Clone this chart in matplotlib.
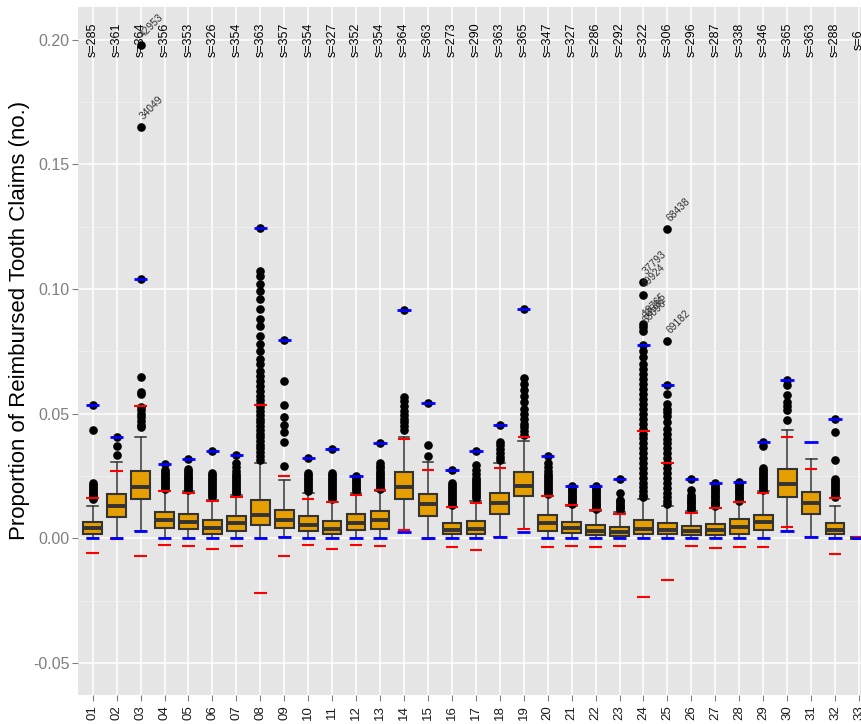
import matplotlib
matplotlib.use("Agg")
import matplotlib.pyplot as plt
import numpy as np
from matplotlib.ticker import MultipleLocator

plt.rcParams["font.family"] = ["Liberation Sans", "DejaVu Sans"]

categories = [f"{i:02d}" for i in range(1, 34)]
sizes = [285, 361, 364, 356, 353, 326, 354, 363, 357, 354, 327, 352, 354, 364, 363,
         273, 290, 363, 365, 347, 327, 286, 292, 322, 306, 296, 287, 338, 346, 365,
         363, 288, 6]

q1 = [0.0016, 0.0084, 0.0159, 0.0039, 0.0036, 0.0017, 0.0030, 0.0052, 0.0041, 0.0028,
      0.0015, 0.0032, 0.0036, 0.0158, 0.0091, 0.0016, 0.0018, 0.0099, 0.0169, 0.0030,
      0.0019, 0.0012, 0.0010, 0.0015, 0.0015, 0.0011, 0.0011, 0.0017, 0.0031, 0.0166,
      0.0096, 0.0015, 0.0]
medians = [0.0040, 0.0131, 0.0206, 0.0075, 0.0067, 0.0040, 0.0059, 0.0092, 0.0075, 0.0051,
           0.0036, 0.0063, 0.0072, 0.0204, 0.0137, 0.0032, 0.0036, 0.0142, 0.0209, 0.0062,
           0.0041, 0.0030, 0.0026, 0.0036, 0.0032, 0.0030, 0.0032, 0.0046, 0.0066, 0.0216,
           0.0142, 0.0032, 0.0]
q3 = [0.0066, 0.0177, 0.0270, 0.0104, 0.0096, 0.0075, 0.0091, 0.0155, 0.0115, 0.0088,
      0.0070, 0.0099, 0.0108, 0.0266, 0.0179, 0.0062, 0.0070, 0.0182, 0.0264, 0.0092,
      0.0066, 0.0052, 0.0046, 0.0075, 0.0062, 0.0049, 0.0055, 0.0076, 0.0094, 0.0276,
      0.0187, 0.0062, 0.0]
whisker_low = [0.0, 0.0, 0.0028, 0.0, 0.0, 0.0, 0.0, 0.0, 0.0003, 0.0,
               0.0, 0.0, 0.0, 0.0032, 0.0, 0.0, 0.0, 0.0004, 0.0035, 0.0,
               0.0, 0.0, 0.0, 0.0, 0.0, 0.0, 0.0, 0.0, 0.0, 0.0028,
               0.0004, 0.0, 0.0]
whisker_high = [0.0128, 0.0307, 0.0404, 0.0190, 0.0190, 0.0155, 0.0172, 0.0300, 0.0235, 0.0180,
                0.0145, 0.0180, 0.0190, 0.0404, 0.0305, 0.0125, 0.0150, 0.0300, 0.0390, 0.0170,
                0.0130, 0.0110, 0.0105, 0.0157, 0.0128, 0.0110, 0.0120, 0.0145, 0.0190, 0.0434,
                0.0316, 0.0128, 0.0]
blue_high = [0.0535, 0.0407, 0.1041, 0.0297, 0.0316, 0.0351, 0.0333, 0.1245, 0.0795, 0.0321,
             0.0359, 0.0250, 0.0380, 0.0916, 0.0543, 0.0273, 0.0349, 0.0454, 0.0920, 0.0329,
             0.0209, 0.0209, 0.0238, 0.0774, 0.0616, 0.0237, 0.0220, 0.0226, 0.0384, 0.0635,
             0.0387, 0.0477, 0.0]
blue_low = [0.0, 0.0, 0.0028, 0.0, 0.0, 0.0, 0.0, 0.0, 0.0003, 0.0,
            0.0, 0.0, 0.0, 0.0025, 0.0, 0.0, 0.0, 0.0004, 0.0025, 0.0,
            0.0, 0.0, 0.0, 0.0, 0.0, 0.0, 0.0, 0.0, 0.0, 0.0028,
            0.0004, 0.0, 0.0]
red_high = [0.0160, 0.0268, 0.0530, 0.0189, 0.0180, 0.0149, 0.0167, 0.0534, 0.0248, 0.0158,
            0.0145, 0.0174, 0.0195, 0.0396, 0.0273, 0.0126, 0.0143, 0.0280, 0.0407, 0.0171,
            0.0135, 0.0115, 0.0096, 0.0430, 0.0300, 0.0102, 0.0122, 0.0146, 0.0182, 0.0407,
            0.0276, 0.0160, 0.0004]
red_low = [-0.0059, -0.0005, -0.0071, -0.0029, -0.0031, -0.0043, -0.0031, -0.0220, -0.0071, -0.0029,
           -0.0044, -0.0028, -0.0032, 0.0033, -0.0005, -0.0037, -0.0047, 0.0004, 0.0036, -0.0035,
           -0.0031, -0.0035, -0.0031, -0.0237, -0.0169, -0.0031, -0.0039, -0.0037, -0.0037, 0.0046,
           0.0004, -0.0063, 0.0004]

outliers = [
    [0.0535, 0.0434, 0.0220, 0.0212, 0.0205, 0.0198, 0.0190, 0.0183, 0.0176, 0.0170, 0.0163, 0.0156],
    [0.0407, 0.0370, 0.0333],
    [0.1980, 0.1650, 0.1041, 0.0645, 0.0588, 0.0580, 0.0525, 0.0514, 0.0500, 0.0485, 0.0470, 0.0455, 0.0446],
    [0.0297, 0.0273, 0.0265, 0.0258, 0.0250, 0.0243, 0.0236, 0.0228, 0.0220, 0.0213, 0.0206, 0.0198],
    [0.0316, 0.0277, 0.0270, 0.0262, 0.0255, 0.0247, 0.0240, 0.0232, 0.0225, 0.0217, 0.0210, 0.0202, 0.0195],
    [0.0351, 0.0260, 0.0252, 0.0244, 0.0236, 0.0228, 0.0220, 0.0212, 0.0204, 0.0196, 0.0188, 0.0180, 0.0172, 0.0164],
    [0.0333, 0.0300, 0.0285, 0.0270, 0.0258, 0.0250, 0.0242, 0.0234, 0.0226, 0.0218, 0.0210, 0.0202, 0.0194, 0.0186, 0.0180],
    [0.1245, 0.1070, 0.1050, 0.1020, 0.0990, 0.0960, 0.0920, 0.0880, 0.0850, 0.0810, 0.0780, 0.0750, 0.0720,
     0.0700, 0.0670, 0.0650, 0.0630, 0.0610, 0.0590, 0.0570, 0.0555, 0.0540, 0.0525, 0.0510, 0.0495, 0.0480,
     0.0465, 0.0450, 0.0435, 0.0420, 0.0405, 0.0390, 0.0375, 0.0360, 0.0345, 0.0330, 0.0315],
    [0.0795, 0.0630, 0.0534, 0.0486, 0.0453, 0.0425, 0.0387, 0.0290],
    [0.0321, 0.0260, 0.0252, 0.0244, 0.0236, 0.0228, 0.0220, 0.0212, 0.0204, 0.0196, 0.0188],
    [0.0359, 0.0260, 0.0252, 0.0244, 0.0236, 0.0228, 0.0220, 0.0212, 0.0204, 0.0196, 0.0188, 0.0180, 0.0172, 0.0164, 0.0156],
    [0.0250, 0.0245, 0.0238, 0.0231, 0.0224, 0.0217, 0.0210, 0.0203, 0.0196, 0.0189],
    [0.0380, 0.0300, 0.0290, 0.0280, 0.0270, 0.0262, 0.0254, 0.0246, 0.0238, 0.0230, 0.0222, 0.0214, 0.0206, 0.0198],
    [0.0916, 0.0567, 0.0550, 0.0530, 0.0510, 0.0495, 0.0480, 0.0465, 0.0450, 0.0434],
    [0.0543, 0.0373, 0.0329],
    [0.0273, 0.0220, 0.0212, 0.0204, 0.0196, 0.0188, 0.0180, 0.0172, 0.0164, 0.0156, 0.0148, 0.0140, 0.0132],
    [0.0349, 0.0293, 0.0275, 0.0258, 0.0240, 0.0232, 0.0224, 0.0216, 0.0208, 0.0200, 0.0192, 0.0184, 0.0176, 0.0168, 0.0160],
    [0.0454, 0.0387, 0.0372, 0.0357, 0.0342, 0.0327, 0.0312],
    [0.0920, 0.0643, 0.0620, 0.0595, 0.0570, 0.0545, 0.0520, 0.0500, 0.0480, 0.0460, 0.0445, 0.0430, 0.0415],
    [0.0329, 0.0300, 0.0285, 0.0270, 0.0258, 0.0250, 0.0242, 0.0234, 0.0226, 0.0218, 0.0210, 0.0202, 0.0194, 0.0186, 0.0178],
    [0.0209, 0.0202, 0.0195, 0.0188, 0.0181, 0.0174, 0.0167, 0.0160, 0.0153, 0.0146, 0.0139],
    [0.0209, 0.0202, 0.0195, 0.0188, 0.0181, 0.0174, 0.0167, 0.0160, 0.0153, 0.0146, 0.0139, 0.0132, 0.0125, 0.0118],
    [0.0238, 0.0180, 0.0155, 0.0148, 0.0141, 0.0134, 0.0127, 0.0120, 0.0113],
    [0.1027, 0.0976, 0.0859, 0.0847, 0.0833, 0.0774, 0.0752, 0.0728, 0.0700, 0.0680, 0.0660, 0.0640, 0.0620,
     0.0600, 0.0580, 0.0560, 0.0540, 0.0520, 0.0500, 0.0480, 0.0460, 0.0440, 0.0420, 0.0400, 0.0380, 0.0360,
     0.0340, 0.0320, 0.0300, 0.0280, 0.0260, 0.0240, 0.0220, 0.0205, 0.0190, 0.0175, 0.0165],
    [0.1241, 0.0790, 0.0616, 0.0578, 0.0540, 0.0520, 0.0505, 0.0490, 0.0465, 0.0440, 0.0420, 0.0398, 0.0380,
     0.0360, 0.0340, 0.0320, 0.0300, 0.0280, 0.0260, 0.0240, 0.0220, 0.0200, 0.0180, 0.0165, 0.0150, 0.0138],
    [0.0237, 0.0193, 0.0172, 0.0165, 0.0158, 0.0151, 0.0144, 0.0137, 0.0130, 0.0123, 0.0117],
    [0.0220, 0.0213, 0.0206, 0.0199, 0.0192, 0.0185, 0.0178, 0.0171, 0.0164, 0.0157, 0.0150, 0.0143, 0.0136, 0.0129],
    [0.0226, 0.0219, 0.0212, 0.0205, 0.0198, 0.0191, 0.0184, 0.0177, 0.0170, 0.0163, 0.0156, 0.0150],
    [0.0384, 0.0370, 0.0283, 0.0275, 0.0267, 0.0259, 0.0251, 0.0243, 0.0235, 0.0227, 0.0219, 0.0211, 0.0203, 0.0195],
    [0.0635, 0.0615, 0.0575, 0.0545, 0.0530, 0.0515, 0.0475],
    [],
    [0.0477, 0.0427, 0.0313, 0.0237, 0.0229, 0.0221, 0.0213, 0.0205, 0.0197, 0.0189, 0.0181, 0.0173, 0.0165],
    [],
]

# labelled outliers: (category index, value, id)
label_cat = [3, 3, 24, 24, 24, 24, 24, 25, 25]
label_val = [0.1980, 0.1650, 0.1027, 0.0976, 0.0859, 0.0847, 0.0833, 0.1241, 0.0790]
label_txt = ["42953", "34049", "37793", "49924", "18765", "63581", "63096", "68438", "69182"]

fig = plt.figure(figsize=(8.61, 7.24), dpi=100)
ax = fig.add_axes([78.3 / 861, 29 / 724, 795.1 / 861, 688 / 724])
ax.set_facecolor("#E5E5E5")
for s in ax.spines.values():
    s.set_visible(False)

positions = np.arange(1, len(categories) + 1)
stats = []
for i in range(len(categories)):
    stats.append(dict(med=medians[i], q1=q1[i], q3=q3[i],
                      whislo=whisker_low[i], whishi=whisker_high[i],
                      fliers=outliers[i], label=categories[i]))

ax.bxp(stats, positions=positions, widths=0.78, capwidths=0.45, patch_artist=True,
       boxprops=dict(facecolor="#E69F00", edgecolor="#333333", linewidth=1.5),
       medianprops=dict(color="#333333", linewidth=2.8),
       whiskerprops=dict(color="#333333", linewidth=1.1),
       capprops=dict(color="#333333", linewidth=1.1),
       flierprops=dict(marker="o", markerfacecolor="black", markeredgecolor="black",
                       markersize=5.2, linestyle="none"),
       zorder=3)

ax.hlines(red_high, positions - 0.26, positions + 0.26, colors="#FF0000", linewidth=1.5, zorder=5)
ax.hlines(red_low, positions - 0.26, positions + 0.26, colors="#FF0000", linewidth=1.5, zorder=5)
ax.hlines(blue_high, positions - 0.28, positions + 0.28, colors="#0000FF", linewidth=2.0, zorder=6)
ax.hlines(blue_low, positions - 0.28, positions + 0.28, colors="#0000FF", linewidth=2.0, zorder=6)

for x, n in zip(positions, sizes):
    ax.text(x, 0.2, f"s={n}", rotation=90, ha="center", va="center", fontsize=9,
            color="black", zorder=7)

for c, v, t in zip(label_cat, label_val, label_txt):
    ax.annotate(t, (c, v), xytext=(3, 4), textcoords="offset points", rotation=45,
                rotation_mode="anchor", ha="left", va="bottom", fontsize=7.4,
                color="#333333", zorder=7)

ax.set_xlim(0.4, len(categories) + 0.6)
ax.set_ylim(-0.0629, 0.2131)
ax.set_xticks(positions)
ax.set_xticklabels(categories, rotation=90, fontsize=9.5, color="#1A1A1A")
ax.yaxis.set_major_locator(MultipleLocator(0.05))
ax.yaxis.set_minor_locator(MultipleLocator(0.025))
ax.set_yticks([-0.05, 0.0, 0.05, 0.10, 0.15, 0.20])
ax.set_yticklabels(["-0.05", "0.00", "0.05", "0.10", "0.15", "0.20"], fontsize=11.5, color="#7F7F7F")
ax.tick_params(axis="both", which="major", color="#7F7F7F", length=4.5, width=0.8, pad=2)
ax.tick_params(axis="x", which="major", pad=3)
ax.tick_params(axis="y", which="minor", length=0)

ax.grid(True, which="major", color="white", linewidth=1.1, zorder=0)
ax.grid(True, which="minor", axis="y", color="#F2F2F2", linewidth=0.5, zorder=0)
ax.set_axisbelow(True)

fig.text(20 / 861, 1 - 320 / 724, "Proportion of Reimbursed Tooth Claims (no.)",
         rotation=90, ha="center", va="center", fontsize=16, color="black")

fig.savefig("out.png", dpi=100)
